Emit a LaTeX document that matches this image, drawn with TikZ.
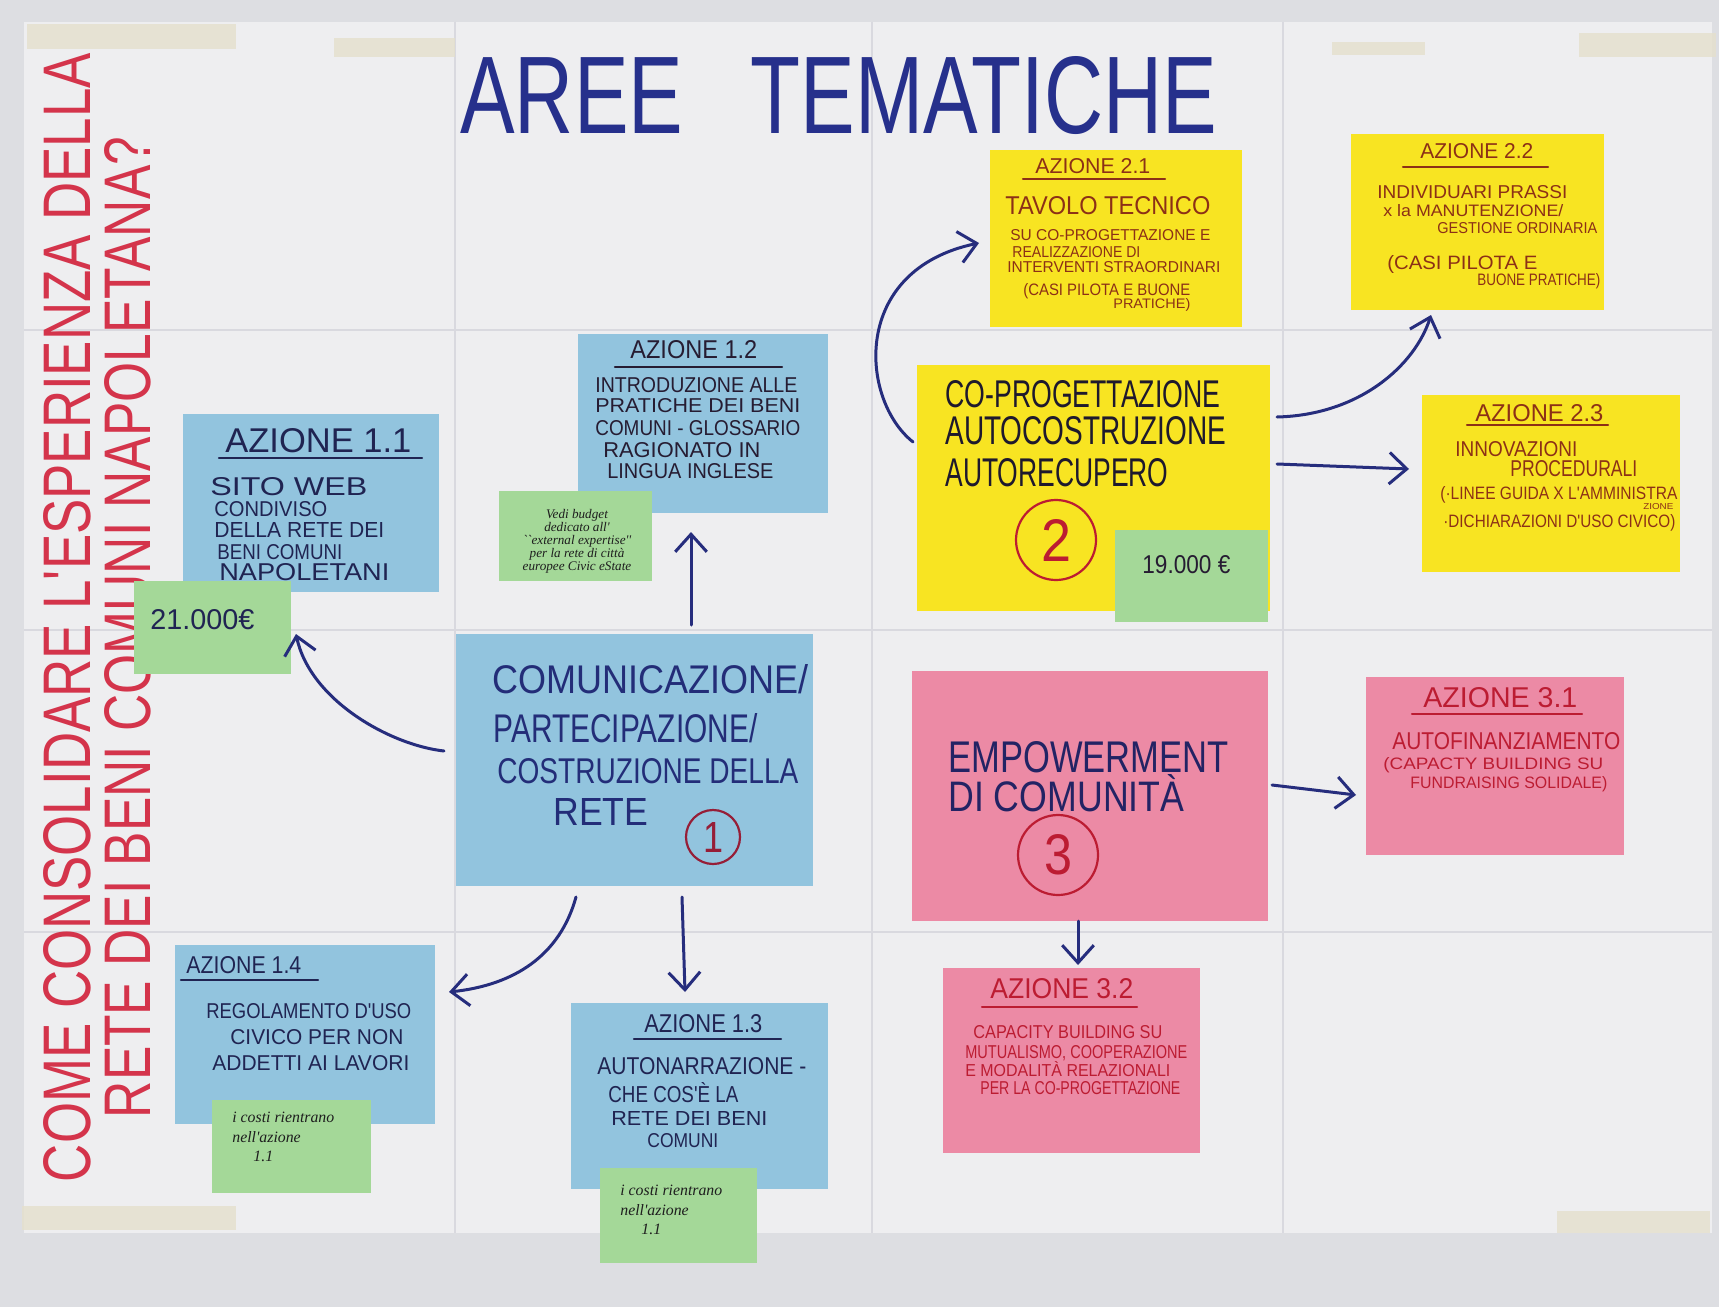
\documentclass[tikz,border=0pt]{standalone}
\usepackage{fontspec}
\setmainfont{Liberation Sans}
\newfontfamily\hand[FakeStretch=0.85]{Liberation Sans}
\newfontfamily\notefont{Liberation Serif}
\usetikzlibrary{arrows.meta}
\newlength{\px}\setlength{\px}{0.02cm}
\newcommand{\fitbox}[3]{\resizebox{#1\px}{#2\px}{#3}}
\definecolor{bg}{RGB}{221,222,226}
\definecolor{paper}{RGB}{238,238,240}
\definecolor{fold}{RGB}{217,217,223}
\definecolor{tape}{RGB}{229,224,204}
\definecolor{nblue}{RGB}{146,196,222}
\definecolor{nyellow}{RGB}{248,228,34}
\definecolor{npink}{RGB}{236,138,165}
\definecolor{ngreen}{RGB}{164,216,152}
\definecolor{navy}{RGB}{38,48,140}
\definecolor{arrowc}{RGB}{38,45,125}
\definecolor{inkA}{RGB}{32,36,82}
\definecolor{inkB}{RGB}{38,28,50}
\definecolor{inkC}{RGB}{35,45,120}
\definecolor{inkD}{RGB}{30,25,45}
\definecolor{inkE}{RGB}{35,35,100}
\definecolor{brownink}{RGB}{140,48,22}
\definecolor{redink}{RGB}{188,28,50}
\definecolor{circred}{RGB}{150,30,55}
\definecolor{qred}{RGB}{212,52,75}
\definecolor{pencil}{RGB}{30,30,30}
\tikzset{
  note/.style 2 args={rectangle, inner sep=0, minimum width=#1\px, minimum height=#2\px},
  txt/.style={inner sep=0, anchor=base west, font=\hand},
  uline/.style={line width=2.2\px, line cap=round},
  arr/.style={draw=arrowc, line width=3\px, line cap=round, -{Straight Barb[length=10pt,width=18pt]}},
  gnote/.style={inner sep=0, anchor=north west, align=left, text=pencil,
    font=\notefont\itshape\fontsize{9}{11}\selectfont},
  numcirc/.style={circle, draw, line width=2.2\px, inner sep=0}
}
\begin{document}
\begin{tikzpicture}[x=0.02cm, y=-0.02cm]
\useasboundingbox (0,0) rectangle (1719,1307);
\fill[bg] (0,0) rectangle (1719,1307);
% poster paper
\fill[paper] (24,22) rectangle (1712,1233);
\foreach \fx in {455,872,1283} \draw[fold, line width=1.2\px] (\fx,22) -- (\fx,1233);
\foreach \fy in {330,630,932} \draw[fold, line width=1.2\px] (24,\fy) -- (1712,\fy);
% tape
\fill[tape, opacity=0.8] (27,24) rectangle (236,49);
\fill[tape, opacity=0.8] (334,38) rectangle (455,57);
\fill[tape, opacity=0.8] (1332,42) rectangle (1425,55);
\fill[tape, opacity=0.8] (1579,33) rectangle (1716,57);
\fill[tape, opacity=0.8] (22,1206) rectangle (236,1230);
\fill[tape, opacity=0.8] (1557,1211) rectangle (1710,1233);

% title
\node[txt, text=navy] (title) at (460,134) {\fitbox{757}{77}{AREE\hspace{0.7em}TEMATICHE}};
% vertical question
\node[inner sep=0, rotate=90, text=qred, font=\hand] (q1) at (67,617.5) {\fitbox{1129}{47}{COME CONSOLIDARE L'ESPERIENZA DELLA}};
\node[inner sep=0, rotate=90, text=qred, font=\hand] (q2) at (128,627.5) {\fitbox{981}{46}{RETE DEI BENI COMUNI NAPOLETANA?}};

% ---------- notes (paper) ----------
\node[note={256}{178}, fill=nblue] (n11) at (311,503) {};
\node[note={250}{179}, fill=nblue] (n12) at (703,423.5) {};
\node[note={357}{252}, fill=nblue] (c1) at (634.5,760) {};
\node[note={260}{179}, fill=nblue] (n14) at (305,1034.5) {};
\node[note={257}{186}, fill=nblue] (n13) at (699.5,1096) {};
\node[note={252}{177}, fill=nyellow] (n21) at (1116,238.5) {};
\node[note={253}{176}, fill=nyellow] (n22) at (1477.5,222) {};
\node[note={353}{246}, fill=nyellow] (c2) at (1093.5,488) {};
\node[note={258}{177}, fill=nyellow] (n23) at (1551,483.5) {};
\node[note={356}{250}, fill=npink] (c3) at (1090,796) {};
\node[note={258}{178}, fill=npink] (n31) at (1495,766) {};
\node[note={257}{185}, fill=npink] (n32) at (1071.5,1060.5) {};

% ---------- Azione 1.1 ----------
\node[txt, text=inkA] (n11h) at (225,452) {\fitbox{186}{24}{AZIONE 1.1}};
\draw[uline, inkA] (219,458) -- (422,458);
\node[txt, text=inkA] (n11a) at (210,495) {\fitbox{157}{18}{SITO WEB}};
\node[txt, text=inkA] (n11b) at (214,516.5) {\fitbox{113}{15}{CONDIVISO}};
\node[txt, text=inkA] (n11c) at (214,537.5) {\fitbox{170}{15}{DELLA RETE DEI}};
\node[txt, text=inkA] (n11d) at (217,559.5) {\fitbox{125}{15}{BENI COMUNI}};
\node[txt, text=inkA] (n11e) at (219,580.5) {\fitbox{170}{17}{NAPOLETANI}};
\node[note={157}{93}, fill=ngreen] (g11) at (212.5,627.5) {};
\node[txt, text=inkA] (g11t) at (150,629) {\fitbox{104}{20}{21.000€}};

% ---------- Azione 1.2 ----------
\node[txt, text=inkB] (n12h) at (630,358) {\fitbox{127}{18}{AZIONE 1.2}};
\draw[uline, inkB] (615,367) -- (782,367);
\node[txt, text=inkB] (n12a) at (595,392.5) {\fitbox{202}{15}{INTRODUZIONE ALLE}};
\node[txt, text=inkB] (n12b) at (595,412) {\fitbox{205}{14}{PRATICHE DEI BENI}};
\node[txt, text=inkB] (n12c) at (595,435) {\fitbox{205}{15}{COMUNI - GLOSSARIO}};
\node[txt, text=inkB] (n12d) at (603,457.5) {\fitbox{157}{15}{RAGIONATO IN}};
\node[txt, text=inkB] (n12e) at (607,478) {\fitbox{166}{15}{LINGUA INGLESE}};
\node[note={153}{90}, fill=ngreen] (g12) at (575.5,536) {};
\node[inner sep=0, align=center, text=pencil, font=\notefont\itshape\fontsize{7.5}{7.4}\selectfont] (g12t) at (577,541)
  {Vedi budget\\dedicato all'\\``external expertise''\\per la rete di città\\europee Civic eState};

% ---------- central 1 ----------
\node[txt, text=inkC] (c1a) at (492,693) {\fitbox{316}{29}{COMUNICAZIONE/}};
\node[txt, text=inkC] (c1b) at (493,742) {\fitbox{264}{29}{PARTECIPAZIONE/}};
\node[txt, text=inkC] (c1c) at (497,783) {\fitbox{301}{25}{COSTRUZIONE DELLA}};
\node[txt, text=inkC] (c1d) at (553,825.5) {\fitbox{95}{27}{RETE}};
\node[numcirc, draw=circred, minimum size=54\px] (c1n) at (713,837) {};
\node[inner sep=0, text=circred, font=\hand] (c1k) at (713,837) {\fitbox{20}{30}{1}};

% ---------- Azione 1.4 ----------
\node[txt, text=inkA] (n14h) at (186,973.5) {\fitbox{115}{17}{AZIONE 1.4}};
\draw[uline, inkA] (181,980) -- (318,980);
\node[txt, text=inkA] (n14a) at (206,1018.5) {\fitbox{205}{15}{REGOLAMENTO D'USO}};
\node[txt, text=inkA] (n14b) at (230,1044.5) {\fitbox{173}{15}{CIVICO PER NON}};
\node[txt, text=inkA] (n14c) at (212,1070.5) {\fitbox{197}{15}{ADDETTI AI LAVORI}};
\node[note={159}{93}, fill=ngreen] (g14) at (291.5,1146.5) {};
\node[gnote] (g14t) at (232,1112) {i costi rientrano\\nell'azione\\\hspace*{12pt}1.1};

% ---------- Azione 1.3 ----------
\node[txt, text=inkA] (n13h) at (644,1032) {\fitbox{118}{18}{AZIONE 1.3}};
\draw[uline, inkA] (634,1039) -- (781,1039);
\node[txt, text=inkA] (n13a) at (597,1074.5) {\fitbox{209}{17}{AUTONARRAZIONE -}};
\node[txt, text=inkA] (n13b) at (608,1102) {\fitbox{130}{20}{CHE COS'È LA}};
\node[txt, text=inkA] (n13c) at (611,1125) {\fitbox{156}{14}{RETE DEI BENI}};
\node[txt, text=inkA] (n13d) at (647,1147) {\fitbox{71}{14}{COMUNI}};
\node[note={157}{95}, fill=ngreen] (g13) at (678.5,1215.5) {};
\node[gnote] (g13t) at (620,1185) {i costi rientrano\\nell'azione\\\hspace*{12pt}1.1};

% ---------- Azione 2.1 ----------
\node[txt, text=brownink] (n21h) at (1035,173.5) {\fitbox{115}{15}{AZIONE 2.1}};
\draw[uline, brownink] (1023,179) -- (1165,179);
\node[txt, text=brownink] (n21a) at (1005,215) {\fitbox{205}{18}{TAVOLO TECNICO}};
\node[txt, text=brownink] (n21b) at (1010,240.5) {\fitbox{200}{11}{SU CO-PROGETTAZIONE E}};
\node[txt, text=brownink] (n21c) at (1012,257.5) {\fitbox{128}{11}{REALIZZAZIONE DI}};
\node[txt, text=brownink] (n21d) at (1007,273) {\fitbox{213}{11}{INTERVENTI STRAORDINARI}};
\node[txt, text=brownink] (n21e) at (1023,296) {\fitbox{167}{12}{(CASI PILOTA E BUONE}};
\node[txt, text=brownink] (n21f) at (1113,308) {\fitbox{77}{10}{PRATICHE)}};

% ---------- Azione 2.2 ----------
\node[txt, text=brownink] (n22h) at (1420,158.5) {\fitbox{113}{15}{AZIONE 2.2}};
\draw[uline, brownink] (1403,167) -- (1548,167);
\node[txt, text=brownink] (n22a) at (1377,198.5) {\fitbox{190}{13}{INDIVIDUARI PRASSI}};
\node[txt, text=brownink] (n22b) at (1383,217) {\fitbox{180}{12}{x la MANUTENZIONE/}};
\node[txt, text=brownink] (n22c) at (1437,234) {\fitbox{160}{11}{GESTIONE ORDINARIA}};
\node[txt, text=brownink] (n22d) at (1387,270) {\fitbox{150}{14}{(CASI PILOTA E}};
\node[txt, text=brownink] (n22e) at (1477,286) {\fitbox{123}{12}{BUONE PRATICHE)}};

% ---------- central 2 ----------
\node[txt, text=inkD] (c2a) at (945,407) {\fitbox{275}{27}{CO-PROGETTAZIONE}};
\node[txt, text=inkD] (c2b) at (945,444) {\fitbox{281}{28}{AUTOCOSTRUZIONE}};
\node[txt, text=inkD] (c2c) at (945,486) {\fitbox{223}{28}{AUTORECUPERO}};
\node[numcirc, draw=redink, minimum size=80\px] (c2n) at (1056,540) {};
\node[inner sep=0, text=redink, font=\hand] (c2k) at (1056,540) {\fitbox{30}{42}{2}};
\node[note={153}{92}, fill=ngreen] (g2) at (1191.5,576) {};
\node[txt, text=inkB] (g2t) at (1142,573) {\fitbox{88}{18}{19.000 €}};

% ---------- Azione 2.3 ----------
\node[txt, text=brownink] (n23h) at (1475,421.5) {\fitbox{128}{17}{AZIONE 2.3}};
\draw[uline, brownink] (1467,425) -- (1608,425);
\node[txt, text=brownink] (n23a) at (1455,456) {\fitbox{122}{15}{INNOVAZIONI}};
\node[txt, text=brownink] (n23b) at (1510,476) {\fitbox{127}{16}{PROCEDURALI}};
\node[txt, text=brownink] (n23c) at (1440,499.5) {\fitbox{237}{13}{(·LINEE GUIDA X L'AMMINISTRA}};
\node[txt, text=brownink] (n23d) at (1643,509) {\fitbox{30}{6}{ZIONE}};
\node[txt, text=brownink] (n23e) at (1443,527.5) {\fitbox{232}{13}{·DICHIARAZIONI D'USO CIVICO)}};

% ---------- central 3 ----------
\node[txt, text=inkE] (c3a) at (948,772) {\fitbox{280}{31}{EMPOWERMENT}};
\node[txt, text=inkE] (c3b) at (948,811) {\fitbox{236}{37}{DI COMUNITÀ}};
\node[numcirc, draw=redink, minimum size=80\px] (c3n) at (1058,855) {};
\node[inner sep=0, text=redink, font=\hand] (c3k) at (1058,855) {\fitbox{28}{40}{3}};

% ---------- Azione 3.1 ----------
\node[txt, text=redink] (n31h) at (1423,707) {\fitbox{154}{20}{AZIONE 3.1}};
\draw[uline, redink] (1412,714) -- (1582,714);
\node[txt, text=redink] (n31a) at (1392,749.5) {\fitbox{228}{17}{AUTOFINANZIAMENTO}};
\node[txt, text=redink] (n31b) at (1383,769) {\fitbox{220}{12}{(CAPACTY BUILDING SU}};
\node[txt, text=redink] (n31c) at (1410,788) {\fitbox{197}{12}{FUNDRAISING SOLIDALE)}};

% ---------- Azione 3.2 ----------
\node[txt, text=redink] (n32h) at (990,998) {\fitbox{143}{20}{AZIONE 3.2}};
\draw[uline, redink] (982,1007) -- (1137,1007);
\node[txt, text=redink] (n32a) at (973,1038.5) {\fitbox{189}{13}{CAPACITY BUILDING SU}};
\node[txt, text=redink] (n32b) at (965,1058.5) {\fitbox{222}{13}{MUTUALISMO, COOPERAZIONE}};
\node[txt, text=redink] (n32c) at (965,1076) {\fitbox{205}{15}{E MODALITÀ RELAZIONALI}};
\node[txt, text=redink] (n32d) at (980,1094) {\fitbox{200}{13}{PER LA CO-PROGETTAZIONE}};

% ---------- connectors ----------
\coordinate (a1s) at (444,751);  \coordinate (a1e) at (296,634);
\coordinate (a2s) at (691,625);  \coordinate (a2e) at (691,532);
\coordinate (a3s) at (576,897);  \coordinate (a3e) at (449,992);
\coordinate (a4s) at (682,897);  \coordinate (a4e) at (685,992);
\coordinate (a5s) at (913,442);  \coordinate (a5e) at (979,243);
\coordinate (a6s) at (1277,417); \coordinate (a6e) at (1431,315);
\coordinate (a7s) at (1277,464); \coordinate (a7e) at (1409,469);
\coordinate (a8s) at (1272,785); \coordinate (a8e) at (1356,795);
\coordinate (a9s) at (1078,921); \coordinate (a9e) at (1078,965);
\draw[arr] (a1s) .. controls (390,745) and (310,700) .. (a1e);
\draw[arr] (a2s) -- (a2e);
\draw[arr] (a3s) .. controls (560,955) and (515,985) .. (a3e);
\draw[arr] (a4s) -- (a4e);
\draw[arr] (a5s) .. controls (860,400) and (850,270) .. (a5e);
\draw[arr] (a6s) .. controls (1360,415) and (1415,365) .. (a6e);
\draw[arr] (a7s) -- (a7e);
\draw[arr] (a8s) -- (a8e);
\draw[arr] (a9s) -- (a9e);
\end{tikzpicture}
\end{document}
